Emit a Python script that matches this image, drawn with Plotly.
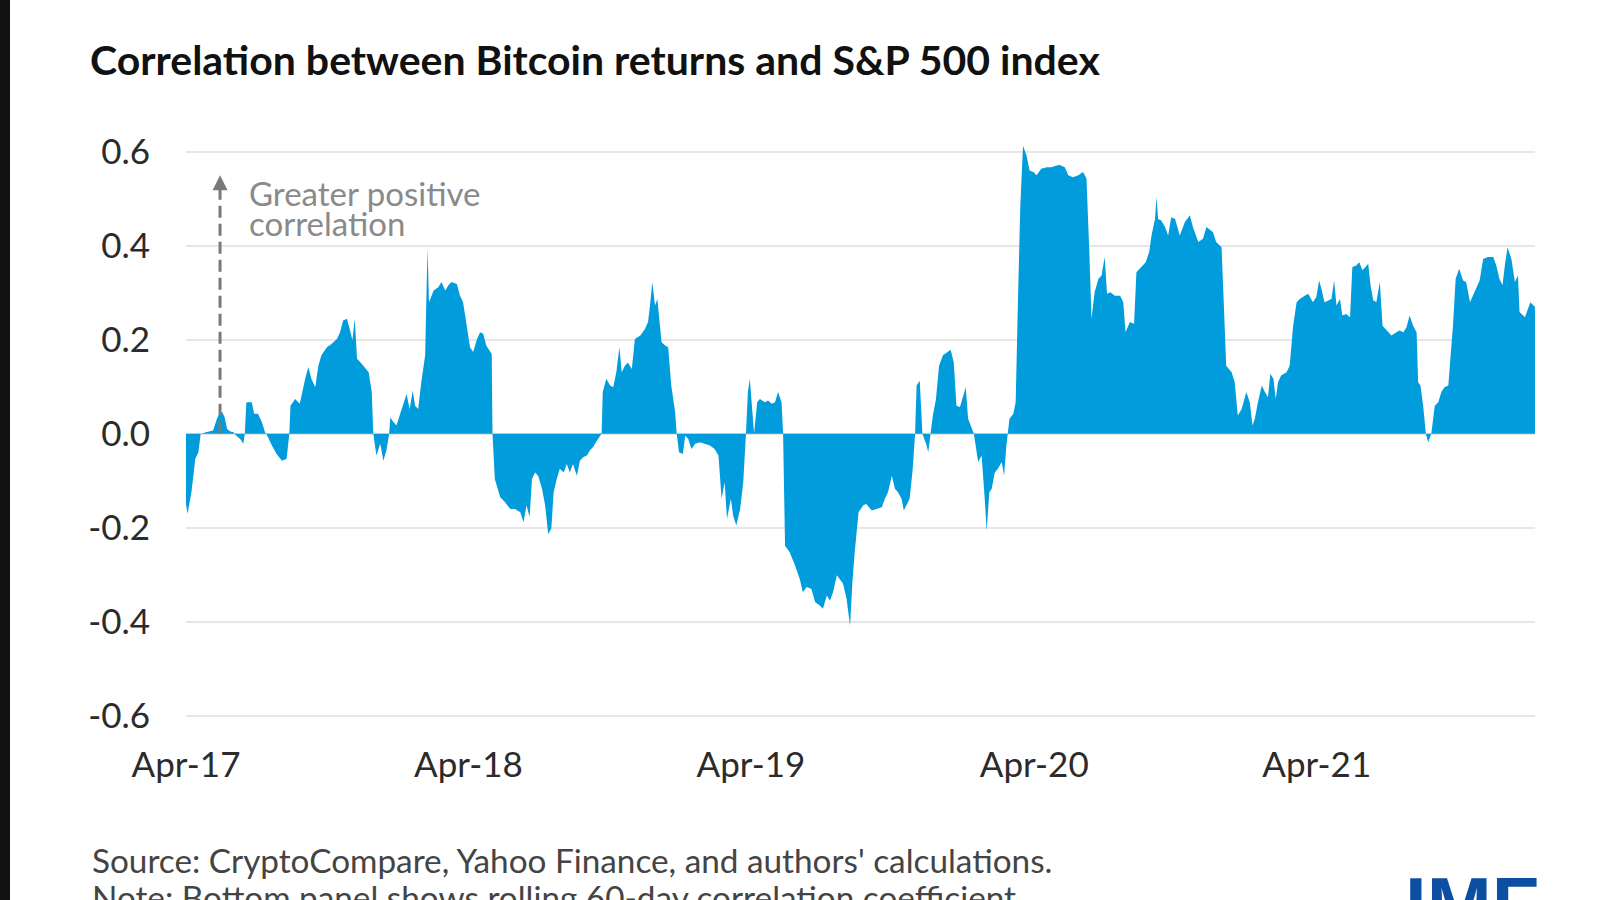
import pandas as pd
import plotly.graph_objects as go

# ---- data ----
start_date = "2017-04-01"
end_date = "2022-01-08"

days = [0, 2, 7, 12, 16, 19, 27, 35, 40, 44, 47, 50, 53, 57, 61, 65, 70, 74, 76, 78, 85, 88, 93, 98, 102, 105,
        111, 117, 124, 130, 133.5, 135, 141, 147, 154, 158, 162, 167, 171, 175, 182, 188, 195, 199, 203, 208,
        212, 215, 218, 221, 227, 231, 236, 240, 242, 246, 251, 255, 259, 262.5, 264, 268, 272, 276, 281, 285,
        289, 293, 296, 300, 304, 309, 312, 314, 320, 326, 330, 335, 339, 343, 350, 354, 358, 363, 367, 371,
        376, 380, 384, 388, 395, 396, 399, 406, 412, 419, 425, 432, 436,
        440, 444, 447, 451, 455, 460, 464, 468, 472, 475, 479, 483, 488, 492, 496, 500, 505, 509, 513, 518,
        522, 526, 531, 535, 537, 538.5, 543, 548, 552, 556, 560, 563, 567, 571, 576, 580, 587, 593, 597,
        599.5, 602.5, 606, 609, 611.5, 614.5, 619, 623, 627, 632, 634, 637, 642, 645, 649, 653, 658, 664,
        670, 677, 683, 688, 692, 696, 699, 704, 707, 711, 716, 720, 723.5, 726, 728.5, 731, 734, 738, 741.5,
        748, 752, 757, 761, 765, 769.5, 771.5, 774, 780, 787, 793, 797, 802, 808, 813, 819, 823, 828, 832,
        836, 841, 845, 849, 853.5, 858, 861, 864, 869, 875,
        879, 886, 892, 899, 903, 907, 912, 916, 920, 924.5, 927.5, 931, 935, 939, 942, 944, 948, 951.5, 957,
        959, 962, 965, 969, 973, 978, 983.5, 988, 992, 995.5, 1000, 1004, 1007.5, 1010.5, 1015, 1018,
        1023.5, 1028, 1032, 1034.5, 1038, 1041, 1045, 1049, 1054, 1057, 1060, 1062, 1064, 1069, 1072, 1075,
        1078, 1081.5, 1086, 1090, 1095, 1099, 1105, 1112, 1118, 1125, 1129, 1135.5, 1140, 1146, 1153, 1159,
        1163.5, 1167, 1170, 1174, 1179, 1183, 1187, 1190, 1194.5, 1200, 1207, 1211, 1214, 1219.5, 1225,
        1228, 1235, 1240, 1244.5, 1247.5, 1252, 1254, 1256, 1260, 1265, 1269, 1273, 1278, 1284, 1290.5,
        1297, 1301, 1308, 1314, 1318.5,
        1327, 1331, 1338, 1341, 1344, 1351, 1355, 1359, 1364, 1370, 1374.5, 1378, 1381, 1385, 1390, 1394,
        1398, 1401, 1405, 1408, 1411, 1415, 1422, 1426, 1430.5, 1435, 1439, 1445.5, 1450, 1456, 1460.5,
        1464, 1467, 1471, 1476, 1480, 1483.5, 1486.5, 1491, 1494, 1499, 1504, 1507, 1512, 1516, 1520, 1524,
        1527.5, 1530.5, 1534, 1538, 1542.5, 1546, 1551, 1557.5, 1564, 1568, 1573, 1577, 1581, 1585.5, 1590,
        1592, 1595, 1598.5, 1602, 1605, 1609, 1613.5, 1618, 1622, 1626, 1631, 1634, 1637, 1640.5, 1645,
        1650, 1654, 1659, 1663, 1667, 1671.5, 1676, 1682, 1689, 1693, 1697, 1701, 1704, 1707.5, 1712.5,
        1717, 1721, 1723, 1730, 1734, 1737, 1743]

corr = [-0.150, -0.170, -0.124, -0.053, -0.039, 0, 0.004, 0.007, 0.032, 0.046, 0.046, 0.035, 0.011, 0.005,
        0.004, -0.004, -0.011, -0.021, 0, 0.067, 0.067, 0.043, 0.043, 0.025, 0.004, -0.004,
        -0.025, -0.043, -0.057, -0.053, 0, 0.060, 0.074, 0.064, 0.117, 0.142, 0.117, 0.099, 0.145, 0.167,
        0.184, 0.191, 0.202, 0.216, 0.241, 0.245, 0.220, 0.199, 0.245, 0.160, 0.149, 0.142, 0.131, 0.089, 0,
        -0.046, -0.021, -0.057, -0.035, 0, 0.035, 0.025, 0.018, 0.039, 0.067, 0.085,
        0.053, 0.092, 0.060, 0.053, 0.110, 0.167, 0.394, 0.280, 0.305, 0.312, 0.323, 0.305, 0.316, 0.323,
        0.319, 0.294, 0.280, 0.230, 0.184, 0.174, 0.202, 0.216, 0.213, 0.188, 0.170, 0, -0.096, -0.135,
        -0.145, -0.160, -0.160, -0.167, -0.188,
        -0.152, -0.177, -0.096, -0.082, -0.089, -0.117, -0.152, -0.213, -0.202, -0.124, -0.096, -0.074,
        -0.082, -0.064, -0.082, -0.064, -0.089, -0.057, -0.050, -0.046,
        -0.035, -0.028, -0.014, -0.004, 0, 0.089, 0.117, 0.103, 0.099, 0.131, 0.184, 0.131, 0.145, 0.152,
        0.138, 0.202, 0.209, 0.223, 0.238,
        0.273, 0.323, 0.273, 0.287, 0.245, 0.195, 0.188, 0.184, 0.103, 0.046, 0, -0.039, -0.043, -0.004,
        -0.011, -0.032, -0.021, -0.018,
        -0.021, -0.025, -0.032, -0.046, -0.138, -0.103, -0.181, -0.138, -0.174, -0.195, -0.160, -0.103, 0,
        0.089, 0.117, 0.060, 0, 0.067, 0.074,
        0.067, 0.071, 0.064, 0.067, 0.089, 0.067, 0, -0.238, -0.252, -0.280, -0.309, -0.337, -0.326, -0.330,
        -0.358, -0.365, -0.372, -0.344, -0.355,
        -0.337, -0.301, -0.309, -0.319, -0.351, -0.408, -0.316, -0.252, -0.167, -0.152,
        -0.149, -0.163, -0.160, -0.156, -0.138, -0.124, -0.089, -0.117, -0.124, -0.138, -0.163, -0.152,
        -0.138, -0.074, 0, 0.103, 0.113, 0, -0.025,
        -0.039, 0, 0.039, 0.074, 0.145, 0.167, 0.174, 0.179, 0.152, 0.060, 0.057, 0.082, 0.099, 0.032, 0.014, 0,
        -0.060, -0.046, -0.138, -0.206, -0.124, -0.117, -0.082, -0.074, -0.060, -0.089, -0.025, 0, 0.032,
        0.043, 0.067, 0.287,
        0.486, 0.613, 0.592, 0.560, 0.557, 0.550, 0.564, 0.567, 0.567, 0.571, 0.572, 0.567, 0.550, 0.546,
        0.550, 0.557,
        0.543, 0.394, 0.245, 0.301, 0.330, 0.337, 0.376, 0.298, 0.301, 0.294, 0.294, 0.280, 0.216, 0.238,
        0.234,
        0.344, 0.355, 0.365, 0.387, 0.422, 0.457, 0.504, 0.457, 0.454, 0.440, 0.422, 0.461, 0.457, 0.422,
        0.450,
        0.465, 0.440, 0.408, 0.415, 0.440,
        0.429, 0.408, 0.397, 0.273, 0.145, 0.131, 0.110, 0.039, 0.053, 0.089, 0.067, 0.018, 0.032, 0.067,
        0.103, 0.089,
        0.078, 0.128, 0.117, 0.074, 0.110, 0.124, 0.131, 0.145, 0.230, 0.280, 0.287, 0.294, 0.298, 0.280,
        0.291,
        0.326, 0.309, 0.280, 0.284, 0.287, 0.326, 0.273, 0.287, 0.252, 0.255, 0.248, 0.355, 0.358, 0.365,
        0.348, 0.355,
        0.362, 0.316, 0.284, 0.280, 0.323, 0.230, 0.220, 0.209, 0.216, 0.220, 0.216, 0.227, 0.252, 0.230,
        0.216,
        0.110, 0.103, 0.060, 0, -0.018, 0, 0.060, 0.067, 0.089, 0.099, 0.103, 0.167, 0.230, 0.330, 0.351,
        0.326, 0.323, 0.280, 0.294, 0.309, 0.326, 0.372, 0.376, 0.376, 0.358, 0.330, 0.316, 0.358, 0.397,
        0.372,
        0.323, 0.337, 0.259, 0.248, 0.266, 0.280, 0.270]

tick_dates = ["2017-04-01", "2018-04-01", "2019-04-01", "2020-04-01", "2021-04-01"]
tick_labels = ["Apr-17", "Apr-18", "Apr-19", "Apr-20", "Apr-21"]
y_ticks = [-0.6, -0.4, -0.2, 0.0, 0.2, 0.4, 0.6]
y_tick_labels = ["-0.6", "-0.4", "-0.2", "0.0", "0.2", "0.4", "0.6"]

title_text = "Correlation between Bitcoin returns and S&P 500 index"
source_text = "Source: CryptoCompare, Yahoo Finance, and authors' calculations."
note_text = "Note: Bottom panel shows rolling 60-day correlation coefficient."
arrow_text_1 = "Greater positive"
arrow_text_2 = "correlation"

dates = pd.Timestamp(start_date) + pd.to_timedelta(days, unit="D")

FONT = "Lato"
BLUE = "#009cdc"

fig = go.Figure()
fig.add_trace(go.Scatter(
    x=dates, y=corr, mode="lines", fill="tozeroy",
    line=dict(width=0, color=BLUE), fillcolor=BLUE, hoverinfo="skip",
))

# plot area in pixels: left 186, right 1535, top 133, bottom 730
L, R, T, B = 186, 1535, 133, 730
W, H = 1600, 900


def px_x(p):
    return (p - L) / (R - L)


def px_y(p):
    return (B - p) / (B - T)


arrow_date = pd.Timestamp(start_date) + pd.Timedelta(days=44)
text_date = pd.Timestamp(start_date) + pd.Timedelta(days=79)

fig.update_layout(
    width=W, height=H,
    margin=dict(l=L, r=W - R, t=T, b=H - B),
    paper_bgcolor="white", plot_bgcolor="white",
    showlegend=False,
    font=dict(family=FONT, color="#2b2b2b"),
    title=dict(text="<b>" + title_text + "</b>", xref="container", yref="container",
               x=90 / W, xanchor="left", y=1 - 61 / H, yanchor="middle",
               font=dict(family=FONT, size=41, color="#111111")),
    xaxis=dict(range=[start_date, end_date], tickvals=tick_dates, ticktext=tick_labels,
               showgrid=False, zeroline=False, showline=False,
               ticks="outside", ticklen=4, tickcolor="rgba(0,0,0,0)",
               tickfont=dict(family=FONT, size=35, color="#2b2b2b")),
    yaxis=dict(range=[-0.63, 0.64], tickvals=y_ticks, ticktext=y_tick_labels,
               showgrid=True, gridcolor="#e6e6e6", gridwidth=2, zeroline=False, showline=False,
               ticks="outside", ticklen=28, tickcolor="rgba(0,0,0,0)",
               tickfont=dict(family=FONT, size=35, color="#2b2b2b")),
)

# dashed arrow
fig.add_shape(type="line", xref="x", yref="y", x0=arrow_date, x1=arrow_date, y0=0.0, y1=0.52,
              line=dict(color="#7a7a7a", width=3, dash="12px,6px"))
fig.add_annotation(x=arrow_date, y=0.55, xref="x", yref="y", ax=0, ay=14, text="",
                   showarrow=True, arrowhead=2, arrowsize=1, arrowwidth=3, arrowcolor="#7a7a7a")
fig.add_annotation(x=text_date, y=(434 - 193) / 470, xref="x", yref="y", text=arrow_text_1,
                   showarrow=False, xanchor="left", yanchor="middle",
                   font=dict(family=FONT, size=33, color="#8a8a8a"))
fig.add_annotation(x=text_date, y=(434 - 223) / 470, xref="x", yref="y", text=arrow_text_2,
                   showarrow=False, xanchor="left", yanchor="middle",
                   font=dict(family=FONT, size=33, color="#8a8a8a"))

# source and note
fig.add_annotation(x=px_x(90), y=px_y(860), xref="paper", yref="paper", text=source_text,
                   showarrow=False, xanchor="left", yanchor="middle",
                   font=dict(family=FONT, size=33.3, color="#444444"))
fig.add_annotation(x=px_x(90), y=px_y(897), xref="paper", yref="paper", text=note_text,
                   showarrow=False, xanchor="left", yanchor="middle",
                   font=dict(family=FONT, size=33.3, color="#444444"))
# IMF logo text
fig.add_annotation(x=px_x(1403), y=px_y(859), xref="paper", yref="paper", text="<b>IMF</b>",
                   showarrow=False, xanchor="left", yanchor="top",
                   font=dict(family="Liberation Sans", size=78, color="#0b4ea2"))

# black strip at the left edge
fig.add_shape(type="rect", xref="paper", yref="paper", x0=px_x(-5), x1=px_x(10), y0=px_y(H + 5), y1=px_y(-5),
              fillcolor="#111111", line=dict(width=0), layer="above")

fig.write_html("out.html", config={"displayModeBar": False},
               post_script="document.body.style.margin='0px';")
